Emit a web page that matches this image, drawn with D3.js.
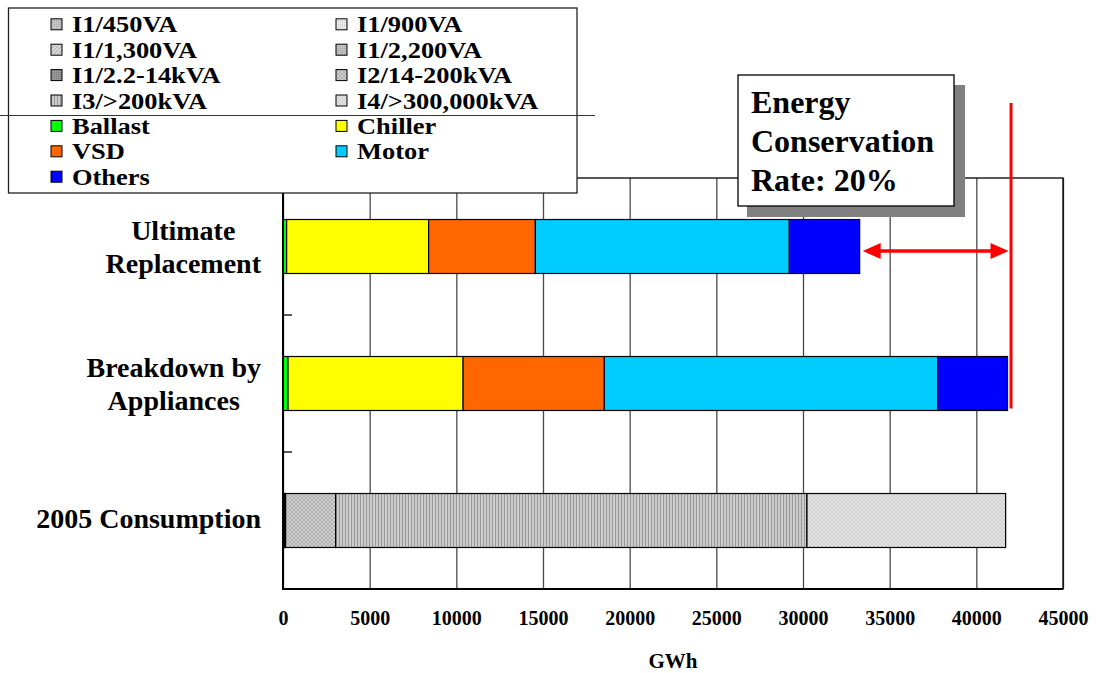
<!DOCTYPE html>
<html>
<head>
<meta charset="utf-8">
<script src="https://cdn.jsdelivr.net/npm/d3@7"></script>
<style>
  html, body { margin: 0; padding: 0; background: #fff; }
  svg { display: block; }
  text { font-family: "Liberation Serif", "Times New Roman", serif; font-weight: bold; fill: #000; }
</style>
</head>
<body>
<svg id="chart" width="1096" height="673"></svg>
<script>
// ---- data ---------------------------------------------------------------
const categories = ["Ultimate Replacement", "Breakdown by Appliances", "2005 Consumption"];
const categoryLines = [["Ultimate", "Replacement"], ["Breakdown by", "Appliances"], ["2005 Consumption"]];

const seriesNames = [
  "I1/450VA", "I1/900VA", "I1/1,300VA", "I1/2,200VA", "I1/2.2-14kVA",
  "I2/14-200kVA", "I3/>200kVA", "I4/>300,000kVA",
  "Ballast", "Chiller", "VSD", "Motor", "Others"
];

// GWh per series, in the order of seriesNames
const ultimateReplacement   = [0, 0, 0, 0, 0, 0, 0, 0, 210, 8190, 6160, 14650, 4060];
const breakdownByAppliances = [0, 0, 0, 0, 0, 0, 0, 0, 290, 10100, 8150, 19230, 4030];
const consumption2005       = [20, 30, 20, 20, 60, 2885, 27195, 11460, 0, 0, 0, 0, 0];

const xTicks = [0, 5000, 10000, 15000, 20000, 25000, 30000, 35000, 40000, 45000];
const axisTitle = "GWh";
const calloutLines = ["Energy", "Conservation"];

// ---- styles -------------------------------------------------------------
const seriesFills = [
  "url(#p450)", "url(#p900)", "url(#p1300)", "url(#p2200)", "url(#p2214)",
  "url(#pI2)", "url(#pI3)", "url(#pI4)",
  "#00ff00", "#ffff00", "#ff6600", "#00ccff", "#0000ff"
];

const svg = d3.select("#chart");
const defs = svg.append("defs");

function pattern(id, w, h, bg, draw) {
  const p = defs.append("pattern").attr("id", id)
    .attr("patternUnits", "userSpaceOnUse").attr("width", w).attr("height", h);
  p.append("rect").attr("width", w).attr("height", h).attr("fill", bg);
  draw(p);
}
const dots = c => p => p.append("rect").attr("width", 1).attr("height", 1).attr("fill", c);
const hatch = c => p => p.append("path").attr("d", "M0,0L4,4M0,4L4,0")
  .attr("stroke", c).attr("stroke-width", 0.8).attr("fill", "none");

pattern("p450", 2, 2, "#c6c6c6", dots("#a8a8a8"));
pattern("p900", 2, 2, "#e8e8e8", dots("#d0d0d0"));
pattern("p1300", 4, 4, "#d6d6d6", p => p.append("path").attr("d", "M0,4L4,0M-1,1L1,-1M3,5L5,3")
  .attr("stroke", "#aeaeae").attr("stroke-width", 1).attr("fill", "none"));
pattern("p2200", 2, 2, "#c2c2c2", dots("#a4a4a4"));
pattern("p2214", 2, 2, "#9a9a9a", dots("#747474"));
pattern("pI2", 4, 4, "#cdcdcd", hatch("#ababab"));
pattern("pI3", 3, 3, "#cbcbcb", p => p.append("rect").attr("width", 1).attr("height", 3).attr("fill", "#9a9a9a"));
pattern("pI4", 4, 4, "#e4e4e4", hatch("#cdcdcd"));

// ---- scales ------------------------------------------------------------
const plot = { left: 283, right: 1063, top: 178, bottom: 589 };

const x = d3.scaleLinear().domain([0, 45000]).range([plot.left, plot.right]);
const y = d3.scaleBand().domain(categories).range([plot.top, plot.bottom])
  .paddingInner(0.606).paddingOuter(0.303);

const valuesByCategory = [ultimateReplacement, breakdownByAppliances, consumption2005];
const table = categories.map((c, i) => {
  const row = { category: c };
  seriesNames.forEach((s, j) => row[s] = valuesByCategory[i][j]);
  return row;
});
const stacked = d3.stack().keys(seriesNames)(table);

// ---- vertical grid lines ---------------------------------------------------
svg.append("g")
  .attr("transform", `translate(0,${plot.bottom})`)
  .call(d3.axisBottom(x).tickValues(xTicks).tickSize(-(plot.bottom - plot.top)).tickFormat(""))
  .call(g => g.select(".domain").remove())
  .call(g => g.selectAll("line").attr("stroke", "#4a4a4a").attr("stroke-width", 1.3));

// ---- stacked bars ------------------------------------------------------------
svg.append("g").selectAll("g")
  .data(stacked).join("g")
  .attr("fill", (d, i) => seriesFills[i])
  .selectAll("rect")
  .data(d => d.filter(s => s[1] - s[0] > 0))
  .join("rect")
  .attr("x", d => x(d[0]))
  .attr("width", d => x(d[1]) - x(d[0]))
  .attr("y", d => y(d.data.category))
  .attr("height", y.bandwidth())
  .attr("stroke", "#000")
  .attr("stroke-width", 1.2);

// ---- plot frame and axes ---------------------------------------------------
svg.append("rect")
  .attr("x", plot.left).attr("y", plot.top)
  .attr("width", plot.right - plot.left).attr("height", plot.bottom - plot.top)
  .attr("fill", "none").attr("stroke", "#000").attr("stroke-width", 1.3);
svg.append("line").attr("x1", plot.left).attr("x2", plot.left)
  .attr("y1", plot.top).attr("y2", plot.bottom).attr("stroke", "#000").attr("stroke-width", 2);
svg.append("line").attr("x1", plot.left - 1).attr("x2", plot.right)
  .attr("y1", plot.bottom).attr("y2", plot.bottom).attr("stroke", "#000").attr("stroke-width", 2);

// inner category separators on the value axis
const gap = y.step() * y.paddingInner() / 2;
svg.append("g").selectAll("line")
  .data(categories.slice(1))
  .join("line")
  .attr("x1", plot.left).attr("x2", plot.left + 9)
  .attr("y1", d => y(d) - gap).attr("y2", d => y(d) - gap)
  .attr("stroke", "#000").attr("stroke-width", 1.3);

// tick labels
svg.append("g")
  .attr("transform", `translate(0,${plot.bottom})`)
  .call(d3.axisBottom(x).tickValues(xTicks).tickSize(0).tickPadding(22).tickFormat(d3.format("d")))
  .call(g => g.select(".domain").remove())
  .call(g => g.selectAll("text")
    .attr("font-family", "Liberation Serif, Times New Roman, serif")
    .attr("font-weight", "bold").attr("font-size", 20).attr("fill", "#000"));

svg.append("text")
  .attr("x", (plot.left + plot.right) / 2).attr("y", 668)
  .attr("text-anchor", "middle").attr("font-size", 21)
  .text(axisTitle);

// category labels
const labelRight = 261;
categories.forEach((c, i) => {
  const lines = categoryLines[i];
  const g = svg.append("g");
  const texts = lines.map(l => g.append("text").attr("font-size", 28).attr("text-anchor", "middle").text(l));
  const maxW = d3.max(texts, t => t.node().getComputedTextLength());
  const cy = y(c) + y.bandwidth() / 2;
  texts.forEach((t, k) => t
    .attr("x", labelRight - maxW / 2)
    .attr("y", cy + 7.5 - (lines.length - 1) * 14 + k * 33));
});

// ---- savings marker --------------------------------------------------------
const totalBreakdown = d3.sum(breakdownByAppliances);
const totalUltimate = d3.sum(ultimateReplacement);
const rate = 1 - totalUltimate / totalBreakdown;

const refX = x(totalBreakdown) + 3.5;
const yBreak = y("Breakdown by Appliances");
svg.append("line")
  .attr("x1", refX).attr("x2", refX)
  .attr("y1", 103).attr("y2", yBreak + y.bandwidth() - 2)
  .attr("stroke", "#ff0000").attr("stroke-width", 3);

const arrowY = y("Ultimate Replacement") + y.bandwidth() / 2 + 4.5;
const ax1 = x(totalUltimate) + 3, ax2 = refX - 2.5;
const headL = 18, headH = 8;
svg.append("line")
  .attr("x1", ax1 + headL - 2).attr("x2", ax2 - headL + 2)
  .attr("y1", arrowY).attr("y2", arrowY)
  .attr("stroke", "#ff0000").attr("stroke-width", 3.5);
svg.append("path")
  .attr("d", `M${ax1},${arrowY}L${ax1 + headL},${arrowY - headH}L${ax1 + headL},${arrowY + headH}Z` +
             `M${ax2},${arrowY}L${ax2 - headL},${arrowY - headH}L${ax2 - headL},${arrowY + headH}Z`)
  .attr("fill", "#ff0000");

// callout box with drop shadow
const box = { x: 738, y: 75, w: 216, h: 131 };
svg.append("rect").attr("x", box.x + 9).attr("y", box.y + 10)
  .attr("width", box.w + 2).attr("height", box.h + 1).attr("fill", "#808080");
svg.append("rect").attr("x", box.x).attr("y", box.y)
  .attr("width", box.w).attr("height", box.h)
  .attr("fill", "#fff").attr("stroke", "#000").attr("stroke-width", 1.3);
const cLines = calloutLines.concat([`Rate: ${d3.format(".0%")(rate)}`]);
svg.append("g").selectAll("text")
  .data(cLines).join("text")
  .attr("x", box.x + 13)
  .attr("y", (d, i) => box.y + 38 + i * 39)
  .attr("font-size", 32)
  .text(d => d);

// ---- legend ---------------------------------------------------------------
const legend = svg.append("g");
legend.append("rect").attr("x", 8.5).attr("y", 8).attr("width", 568.5).attr("height", 185)
  .attr("fill", "#fff").attr("stroke", "#222").attr("stroke-width", 1.3);
const colX = [51, 336];
const rowY0 = 24.3, rowStep = 25.4;
seriesNames.forEach((s, i) => {
  const cx = colX[i % 2];
  const cy = rowY0 + Math.floor(i / 2) * rowStep;
  legend.append("rect").attr("x", cx).attr("y", cy - 5.5).attr("width", 11).attr("height", 11)
    .attr("fill", seriesFills[i]).attr("stroke", "#000").attr("stroke-width", 1);
  legend.append("g")
    .attr("transform", `translate(${cx + 21},${cy + 8}) scale(1.15,1)`)
    .append("text").attr("font-size", 23).text(s);
});

// rule across the upper left of the page
svg.append("line").attr("x1", 0).attr("x2", 595).attr("y1", 115.5).attr("y2", 115.5)
  .attr("stroke", "#333").attr("stroke-width", 1.2);
</script>
</body>
</html>
